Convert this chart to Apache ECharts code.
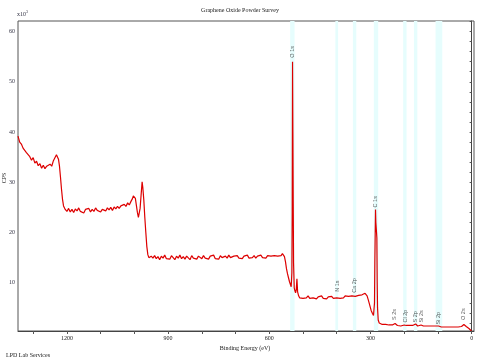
<!DOCTYPE html>
<html>
<head>
<meta charset="utf-8">
<script src="https://cdn.jsdelivr.net/npm/echarts@6/dist/echarts.min.js"></script>
<style>html,body{margin:0;padding:0;background:#fff}#c{width:480px;height:360px}</style>
</head>
<body>
<div id="c"></div>
<script>
// Binding energy (eV) and counts (x10^3 CPS)
const bindingEnergy = [
1345,1340,1335,1330,1325,1320,1315,1310,1305,1300,1295,1290,1285,1280,1275,1270,1265,1260,1255,1250,1245,1240,1235,1231,1228,1225,1222,1219,1216,1213,1210,1205,
1200,1195,1190,1185,1180,1175,1170,1165,1160,1155,1150,1145,1140,1135,1130,1125,1120,1115,1110,1105,1100,1095,1090,1085,1080,1075,1070,1065,1060,1055,1050,1045,1040,1035,1030,1025,1020,1015,1010,1006,1003,1000,997,994,991,988,986,983,980,977,975,972,969,966,963,960,957,
955,950,945,940,935,930,925,920,915,910,905,900,895,890,885,880,875,870,865,860,855,850,845,840,835,830,825,820,815,810,805,800,795,790,785,780,775,770,765,760,755,750,745,740,735,730,725,720,715,710,705,700,695,690,685,680,675,670,665,660,655,650,645,640,635,630,625,620,615,610,605,600,595,590,585,580,575,570,565,561,558,555,552,549,546,543,540,537,535,533,532,531,530,529,528,526,524,522,520,518,516,513,510,
505,500,495,490,485,480,475,470,465,460,455,450,445,440,435,430,425,420,415,410,405,400,395,390,385,380,375,370,365,360,355,350,345,340,335,330,325,320,316,313,310,306,302,298,294,291,289,288,287,285,284,282,281,280,279,277,274,270,
265,260,255,250,245,240,235,230,227,224,220,215,210,205,200,197,194,190,185,180,175,170,166,163,160,155,150,147,143,140,135,130,125,120,115,110,105,101,98,95,90,85,80,75,70,65,60,55,50,45,40,35,30,26,23,20,16,12,8,5,2,0
];
const counts = [
39.2,38.0,37.6,36.8,36.9,35.9,35.6,35.1,34.4,34.9,33.8,34.2,33.3,33.7,32.8,33.4,32.7,33.2,32.9,33.6,33.2,34.3,34.6,35.5,35.3,34.6,33.2,31.0,28.6,26.6,25.3,24.6,
24.2,24.8,24.1,24.6,24.0,24.7,24.3,24.9,24.2,24.5,23.9,24.6,24.3,24.8,24.1,24.6,24.2,24.9,24.4,24.7,24.1,24.6,24.8,24.3,24.9,24.5,25.0,24.4,25.1,24.7,25.2,24.8,25.3,25.0,25.6,25.2,25.9,25.5,26.2,26.7,27.3,27.6,26.8,25.4,24.0,23.0,22.9,24.8,27.5,30.1,29.0,26.5,23.0,20.0,17.2,15.6,15.0,
14.7,15.3,14.9,15.4,14.8,15.2,14.6,15.3,14.9,15.5,14.8,15.1,14.7,15.4,15.0,14.6,15.3,14.9,15.5,14.8,15.2,14.7,15.3,15.0,14.6,15.4,14.9,15.2,14.7,15.3,15.0,14.8,15.4,14.9,15.2,14.7,15.3,15.0,15.5,14.8,15.1,14.7,15.4,15.0,14.8,15.3,14.9,15.5,15.0,14.8,15.3,15.0,15.4,14.9,15.2,14.8,15.3,15.0,15.5,14.9,15.2,15.0,15.4,14.9,15.3,15.1,15.5,15.0,15.2,14.9,15.4,15.1,15.3,15.0,15.4,15.2,15.3,15.5,15.4,15.8,15.9,15.2,14.2,12.8,11.8,11.0,10.2,9.6,9.2,12.0,24.0,54.0,40.0,26.0,14.0,9.0,8.4,8.0,8.6,10.8,8.2,7.4,7.0,
7.3,6.9,7.2,7.0,7.4,6.9,7.2,7.0,7.3,6.8,7.2,7.0,7.4,6.9,7.1,6.8,7.2,7.0,7.3,6.9,7.1,7.0,7.3,6.9,7.2,7.0,7.4,7.1,7.3,7.0,7.4,7.1,7.3,7.2,7.5,7.3,7.6,7.5,7.9,8.0,7.4,6.5,5.5,4.5,3.9,3.5,3.6,6.0,14.0,24.6,22.0,20.0,18.9,10.0,5.0,2.6,2.0,1.8,
1.7,1.6,1.7,1.5,1.6,1.5,1.6,1.8,1.9,1.6,1.5,1.6,1.4,1.5,1.6,1.7,1.5,1.4,1.5,1.4,1.5,1.5,1.8,1.6,1.4,1.5,1.6,1.5,1.4,1.3,1.4,1.3,1.4,1.3,1.4,1.3,1.4,1.6,1.4,1.3,1.2,1.3,1.2,1.3,1.2,1.1,1.2,1.1,1.2,1.1,1.2,1.1,1.3,1.5,1.7,1.5,1.3,1.1,0.9,0.7,0.5,0.45
];
// Peak annotations
const peakNames = ['O 1s','N 1s','Ca 2p','C 1s','S 2s','Cl 2p','S 2p','Si 2s','Si 2p','O 2s'];
const peakEnergies = [531, 399, 348, 284, 229, 196, 166, 149, 98, 23];
const peakLabelLevels = [54.8, 8.2, 8.0, 25.0, 2.6, 2.1, 2.1, 2.1, 1.7, 2.6];
// Shaded regions (eV): [high, low]
const bandRanges = [[538,525],[404,396],[352,342],[290,277],[203,193],[171,161],[107,87]];
// Tick values
const xLabelValues = [1200, 900, 600, 300, 0];
const xTickValues = [1300,1200,1100,1000,900,800,700,600,500,400,300,200,100,0];
const yLabelValues = [10, 20, 30, 40, 50, 60];
const yTickValues = [2,4,6,8,10,12,14,16,18,20,22,24,26,28,30,32,34,36,38,40,42,44,46,48,50,52,54,56,58,60,62];

const spectrum = bindingEnergy.map((e, i) => [e, counts[i]]);
const peakData = peakEnergies.map((e, i) => ({ value: [e, peakLabelLevels[i]], name: peakNames[i] }));
const bandData = bandRanges.map(r => [{ xAxis: r[0] }, { xAxis: r[1] }]);

const serif = 'Liberation Serif';
const chart = echarts.init(document.getElementById('c'), null, { renderer: 'canvas' });
chart.setOption({
  animation: false,
  backgroundColor: '#ffffff',
  title: {
    text: 'Graphene Oxide Powder Survey',
    left: 'center', top: 2,
    textStyle: { fontFamily: serif, fontSize: 6, fontWeight: 'normal', color: '#222' }
  },
  grid: { left: 18, right: 6, top: 21, bottom: 29, show: true, borderColor: '#555', borderWidth: 1 },
  xAxis: {
    type: 'value', inverse: true, min: -7, max: 1345,
    axisLine: { show: true, lineStyle: { color: '#444', width: 1 } },
    axisTick: { show: true, length: 3, customValues: xTickValues, lineStyle: { color: '#555' } },
    axisLabel: { customValues: xLabelValues, formatter: v => String(v), fontFamily: serif, fontSize: 6, color: '#222', margin: 4 },
    splitLine: { show: false }
  },
  yAxis: {
    type: 'value', min: 0.4, max: 62.1,
    axisLine: { show: true, lineStyle: { color: '#444', width: 1 } },
    axisTick: { show: true, length: 2, customValues: yTickValues, lineStyle: { color: '#555' } },
    axisLabel: { customValues: yLabelValues, formatter: v => String(v), fontFamily: serif, fontSize: 6, color: '#334', margin: 3 },
    splitLine: { show: false }
  },
  graphic: [
    { type: 'text', left: 17, top: 10, style: { text: '{a|x10}{b|3}', rich: { a: { fontFamily: serif, fontSize: 6, fill: '#334' }, b: { fontFamily: serif, fontSize: 4, fill: '#334', verticalAlign: 'top', padding: [0,0,4,0] } } } },
    { type: 'text', x: 4, y: 178, rotation: Math.PI / 2, style: { text: 'CPS', fontFamily: serif, fontSize: 6, fill: '#222', align: 'center', verticalAlign: 'middle' } },
    { type: 'text', x: 245, y: 348, style: { text: 'Binding Energy (eV)', fontFamily: serif, fontSize: 6, fill: '#222', align: 'center', verticalAlign: 'middle' } },
    { type: 'text', x: 6, y: 355, style: { text: 'LPD Lab Services', fontFamily: serif, fontSize: 6, fill: '#222', align: 'left', verticalAlign: 'middle' } }
  ],
  series: [
    {
      type: 'line', data: [], z: 0, silent: true,
      markArea: { silent: true, itemStyle: { color: '#e6fdfd' }, data: bandData }
    },
    {
      type: 'line', data: spectrum, z: 2, showSymbol: false, symbol: 'none',
      lineStyle: { color: '#dd0000', width: 1.2 }, clip: true
    },
    {
      type: 'scatter', data: peakData, z: 3, symbolSize: 0, silent: true,
      label: {
        show: true, formatter: p => p.name, position: [0, 0], rotate: 90,
        align: 'left', verticalAlign: 'middle',
        fontFamily: 'Liberation Sans', fontSize: 5.5, color: '#333'
      }
    }
  ]
});
</script>
</body>
</html>
